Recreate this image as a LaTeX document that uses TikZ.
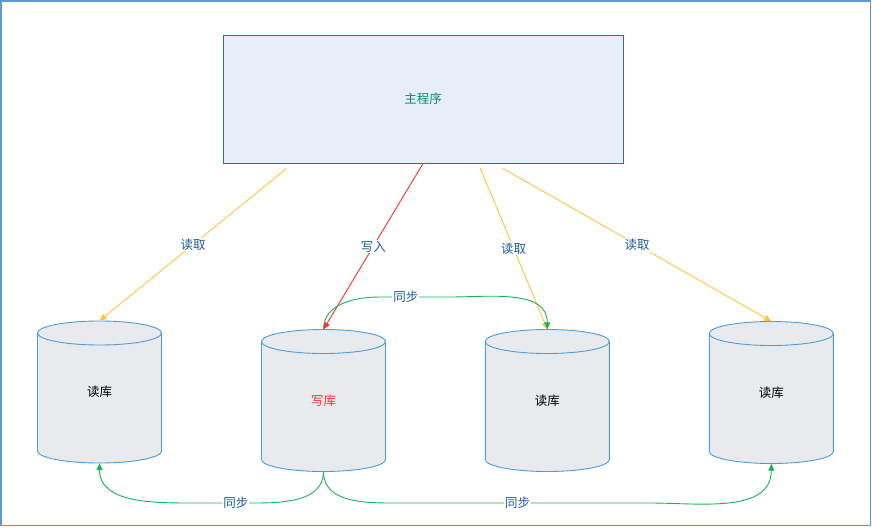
\documentclass[tikz,border=0pt]{standalone}
\usepackage{fontspec}
\setmainfont{Noto Sans CJK SC}
\usetikzlibrary{arrows.meta,calc}
\definecolor{framec}{HTML}{5B9BD5}
\definecolor{mainborder}{HTML}{237B6B}
\definecolor{mainfill}{HTML}{E8EEF8}
\definecolor{maintext}{HTML}{0E8A6B}
\definecolor{cylborder}{HTML}{4E9CDA}
\definecolor{cylfill}{HTML}{E8EAEE}
\definecolor{readc}{HTML}{FFC33D}
\definecolor{writec}{HTML}{FF3030}
\definecolor{syncc}{HTML}{1CAF5C}
\definecolor{lblc}{HTML}{1F5C99}
\tikzset{
  mainbox/.style={draw=mainborder, fill=mainfill, line width=0.9pt, minimum width=400pt, minimum height=128pt, text=maintext, inner sep=0pt},
  dbnode/.style={rectangle, minimum width=124pt, minimum height=142pt, inner sep=0pt},
  cylshape/.style={draw=cylborder, fill=cylfill, line width=0.9pt},
  cylline/.style={draw=cylborder, line width=0.9pt},
  tipA/.style={-{Triangle[length=7pt,width=6pt]}},
  readarrow/.style={tipA, draw=readc, line width=0.9pt},
  writearrow/.style={tipA, draw=writec, line width=0.9pt},
  syncarrow/.style={tipA, draw=syncc, line width=0.9pt},
  lbl/.style={fill=white, inner sep=1pt, text=lblc}
}
\newcommand\dbcyl[5]{%
  \begin{scope}[shift={(#2,#3)}]
    \path[cylshape] (-62,-59) -- (-62,59) .. controls (-62,65.63) and (-34.24,71) .. (0,71)
      .. controls (34.24,71) and (62,65.63) .. (62,59) -- (62,-59)
      .. controls (62,-65.63) and (34.24,-71) .. (0,-71)
      .. controls (-34.24,-71) and (-62,-65.63) .. (-62,-59) -- cycle;
    \path[cylline] (-62,-59) .. controls (-62,-52.37) and (-34.24,-47) .. (0,-47)
      .. controls (34.24,-47) and (62,-52.37) .. (62,-59);
  \end{scope}
  \node[dbnode,#4] (#1) at (#2,#3) {#5};
}
\begin{document}
\begin{tikzpicture}[x=1pt,y=-1pt,font=\fontsize{12.5}{14}\selectfont]
\useasboundingbox (0,0) rectangle (872,527);
\draw[framec, line width=1.3pt] (1,1) rectangle (870.8,525.8);

\node[mainbox] (main) at (423,99) {主程序};

\dbcyl{c1}{99.5}{392}{}{读库}
\dbcyl{c2}{323.5}{400.5}{text=writec}{写库}
\dbcyl{c3}{547.3}{400.5}{}{读库}
\dbcyl{c4}{771.3}{392.5}{}{读库}

\coordinate (s1) at ($(main.south west)+(64,5)$);
\coordinate (s2) at (main.south);
\coordinate (s3) at ($(main.south)+(57,4)$);
\coordinate (s4) at ($(main.south)+(80,5)$);

\draw[readarrow] (s1) -- node[lbl] {读取} (c1.north);
\draw[writearrow] (s2) -- node[lbl] {写入} (c2.north);
\draw[readarrow] (s3) -- node[lbl] {读取} (c3.north);
\draw[readarrow] (s4) -- node[lbl] {读取} (c4.north);

\draw[syncarrow] (c2.north) to[out=90,in=180] (380,297) -- node[lbl,pos=0.37] {同步} (450,297) to[out=0,in=90] (c3.north);
\draw[syncarrow] (c2.south) to[out=-90,in=0] (255,503) -- node[lbl,pos=0.32] {同步} (195,503) to[out=180,in=-90] (c1.south);
\draw[syncarrow] (c2.south) to[out=-90,in=180] (400,503) -- node[lbl,pos=0.47] {同步} (650,503) to[out=0,in=-90] (c4.south);
\end{tikzpicture}
\end{document}
